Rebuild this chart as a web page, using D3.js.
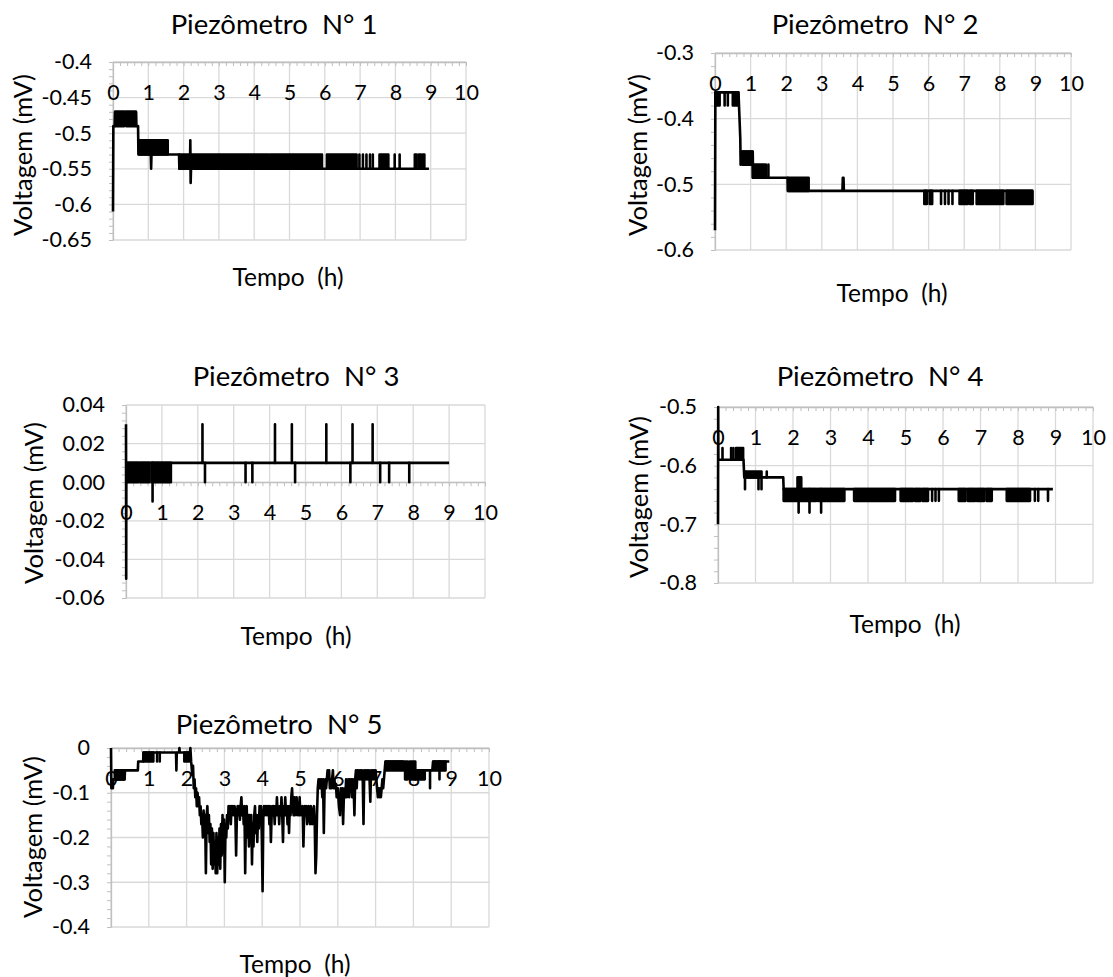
<!DOCTYPE html>
<html><head><meta charset="utf-8">
<script src="https://cdn.jsdelivr.net/npm/d3@7"></script>
<style>
body{margin:0;background:#fff}
svg{display:block}
text{font-family:Lato,"Open Sans",sans-serif;fill:#000}
</style>
</head><body>
<svg id="chart" width="1113" height="977"></svg>
<script>
// ---------- DATA ----------
const titles = ["Piezômetro  N° 1","Piezômetro  N° 2","Piezômetro  N° 3","Piezômetro  N° 4","Piezômetro  N° 5"];
const xTitle = "Tempo  (h)";
const yTitle = "Voltagem (mV)";
const xTickLabels = ["0","1","2","3","4","5","6","7","8","9","10"];

const p1YTicks = ["-0.4","-0.45","-0.5","-0.55","-0.6","-0.65"];
const p2YTicks = ["-0.3","-0.4","-0.5","-0.6"];
const p3YTicks = ["0.04","0.02","0.00","-0.02","-0.04","-0.06"];
const p4YTicks = ["-0.5","-0.6","-0.7","-0.8"];
const p5YTicks = ["0","-0.1","-0.2","-0.3","-0.4"];

// main line: [time h, voltage mV]
const p1Line = [[0,-0.61],[0.01,-0.49],[0.05,-0.49],[0.06,-0.47],[0.65,-0.47],[0.66,-0.49],[0.71,-0.49],[0.72,-0.53],[1.07,-0.53],[1.08,-0.55],[1.09,-0.53],[1.87,-0.53],[1.88,-0.55],[2.18,-0.55],[2.19,-0.51],[2.2,-0.57],[2.21,-0.55],[8.95,-0.55]];
// dense fluctuation between two levels: [t start, t end, low, high]
const p1Bands = [[0.06,0.32,-0.49,-0.47],[0.37,0.65,-0.49,-0.47],[0.74,1.55,-0.53,-0.51],[1.88,4.4,-0.55,-0.53],[4.45,5.48,-0.55,-0.53],[5.52,5.92,-0.55,-0.53],[6.06,6.5,-0.55,-0.53],[6.54,6.9,-0.55,-0.53],[6.98,6.98,-0.55,-0.53],[7.08,7.08,-0.55,-0.53],[7.18,7.18,-0.55,-0.53],[7.28,7.28,-0.55,-0.53],[7.36,7.36,-0.55,-0.53],[7.55,7.8,-0.55,-0.53],[7.98,7.98,-0.55,-0.53],[8.12,8.12,-0.55,-0.53],[8.55,8.6,-0.55,-0.53],[8.66,8.72,-0.55,-0.53],[8.77,8.82,-0.55,-0.53]];

const p2Line = [[0,-0.57],[0.01,-0.36],[0.66,-0.36],[0.71,-0.43],[0.72,-0.47],[0.74,-0.45],[1.06,-0.45],[1.07,-0.49],[2.04,-0.49],[2.05,-0.51],[3.58,-0.51],[3.59,-0.49],[3.61,-0.49],[3.62,-0.51],[8.93,-0.51]];
const p2Bands = [[0.01,0.13,-0.38,-0.36],[0.27,0.27,-0.38,-0.36],[0.36,0.36,-0.38,-0.36],[0.5,0.65,-0.38,-0.36],[0.77,1.05,-0.47,-0.45],[1.06,1.38,-0.49,-0.47],[1.43,1.43,-0.49,-0.47],[1.5,1.5,-0.49,-0.47],[2.05,2.63,-0.51,-0.49],[5.88,5.95,-0.53,-0.51],[6.03,6.1,-0.53,-0.51],[6.35,6.35,-0.53,-0.51],[6.46,6.46,-0.53,-0.51],[6.56,6.56,-0.53,-0.51],[6.67,6.67,-0.53,-0.51],[6.87,7.1,-0.53,-0.51],[7.16,7.24,-0.53,-0.51],[7.35,8.1,-0.53,-0.51],[8.19,8.92,-0.53,-0.51]];

const p3Line = [[0,0.03],[0.005,-0.05],[0.01,0.01],[9.0,0.01]];
const p3Bands = [[0.02,0.34,0,0.01],[0.39,0.65,0,0.01],[0.71,1.25,0,0.01],[0.74,0.74,-0.01,0.01],[2.13,2.13,0.01,0.03],[2.2,2.2,0,0.01],[3.33,3.33,0,0.01],[3.52,3.52,0,0.01],[4.15,4.15,0.01,0.03],[4.62,4.62,0.01,0.03],[4.71,4.71,0,0.01],[5.58,5.58,0.01,0.03],[6.25,6.25,0,0.01],[6.31,6.31,0.01,0.03],[6.87,6.87,0.01,0.03],[7.08,7.08,0,0.01],[7.33,7.33,0,0.01],[7.89,7.89,0,0.01]];

const p4Line = [[0,-0.7],[0.005,-0.5],[0.01,-0.59],[0.68,-0.59],[0.7,-0.62],[1.74,-0.62],[1.75,-0.64],[8.93,-0.64]];
const p4Bands = [[0.12,0.12,-0.59,-0.57],[0.35,0.35,-0.59,-0.57],[0.41,0.41,-0.59,-0.57],[0.48,0.67,-0.59,-0.57],[0.72,0.72,-0.64,-0.61],[0.75,1.16,-0.62,-0.61],[1.08,1.08,-0.64,-0.62],[1.16,1.16,-0.64,-0.62],[1.3,1.3,-0.62,-0.61],[1.75,2.62,-0.66,-0.64],[2.12,2.22,-0.64,-0.62],[2.15,2.15,-0.68,-0.64],[2.44,2.44,-0.68,-0.64],[2.75,2.75,-0.68,-0.64],[2.66,3.37,-0.66,-0.64],[3.63,4.72,-0.66,-0.64],[4.87,5.2,-0.66,-0.64],[5.25,5.4,-0.66,-0.64],[5.45,5.6,-0.66,-0.64],[5.71,5.71,-0.66,-0.64],[5.8,5.8,-0.66,-0.64],[5.89,5.89,-0.66,-0.64],[6.42,6.6,-0.66,-0.64],[6.66,6.86,-0.66,-0.64],[6.9,7.1,-0.66,-0.64],[7.16,7.3,-0.66,-0.64],[7.7,8.32,-0.66,-0.64],[8.45,8.45,-0.66,-0.64],[8.54,8.54,-0.66,-0.64],[8.8,8.8,-0.66,-0.64]];

const p5Line = [[0,0],[0.01,-0.09],[0.05,-0.09],[0.06,-0.07],[0.36,-0.07],[0.37,-0.05],[0.71,-0.05],[0.72,-0.03],[0.85,-0.03],[0.86,-0.01],[1.72,-0.01],[1.73,-0.05],[1.74,-0.01],[1.8,-0.01],[1.81,0],[1.82,-0.01],[2.09,-0.01],[2.1,0],[2.12,-0.03],
[2.15,-0.06],[2.17,-0.04],[2.19,-0.09],[2.21,-0.07],[2.23,-0.11],[2.25,-0.09],[2.27,-0.13],[2.29,-0.1],[2.31,-0.13],[2.33,-0.11],[2.35,-0.15],[2.37,-0.13],[2.39,-0.17],[2.41,-0.15],[2.43,-0.2],[2.45,-0.14],[2.47,-0.19],[2.49,-0.15],[2.51,-0.28],[2.53,-0.15],[2.55,-0.13],[2.57,-0.19],[2.59,-0.15],[2.61,-0.21],[2.63,-0.17],[2.65,-0.26],[2.67,-0.18],[2.69,-0.27],[2.71,-0.19],[2.73,-0.26],[2.75,-0.21],[2.77,-0.28],[2.79,-0.19],[2.81,-0.28],[2.83,-0.2],[2.85,-0.26],[2.87,-0.18],[2.89,-0.27],[2.91,-0.17],[2.93,-0.24],[2.95,-0.15],[2.97,-0.2],[2.99,-0.16],[3.01,-0.3],[3.03,-0.17],[3.05,-0.2],[3.07,-0.15],[3.09,-0.18],[3.11,-0.13],[3.13,-0.15],[3.15,-0.13],[3.17,-0.17],[3.19,-0.13],[3.21,-0.15],[3.23,-0.13],[3.25,-0.15],[3.27,-0.13],[3.29,-0.15],[3.31,-0.24],[3.33,-0.15],[3.35,-0.13],[3.37,-0.15],[3.39,-0.13],[3.41,-0.16],[3.43,-0.13],[3.45,-0.11],[3.47,-0.15],[3.49,-0.13],[3.51,-0.17],[3.53,-0.13],[3.55,-0.28],[3.57,-0.15],[3.59,-0.13],[3.61,-0.2],[3.63,-0.15],[3.65,-0.22],[3.67,-0.15],[3.69,-0.19],[3.71,-0.15],[3.73,-0.26],[3.75,-0.17],[3.77,-0.22],[3.79,-0.15],[3.81,-0.13],[3.83,-0.19],[3.85,-0.15],[3.87,-0.21],[3.89,-0.15],[3.91,-0.18],[3.93,-0.13],[3.95,-0.16],[3.97,-0.13],[3.99,-0.2],[4.01,-0.32],[4.03,-0.15],[4.05,-0.13],
[4.07,-0.15],[4.09,-0.13],[4.11,-0.15],[4.13,-0.13],[4.15,-0.15],[4.17,-0.13],[4.19,-0.17],[4.21,-0.13],[4.23,-0.21],[4.25,-0.15],[4.27,-0.13],[4.29,-0.15],[4.31,-0.13],[4.33,-0.17],[4.35,-0.13],[4.37,-0.15],[4.39,-0.11],[4.41,-0.15],[4.43,-0.13],[4.45,-0.17],[4.47,-0.13],[4.49,-0.15],[4.51,-0.11],[4.53,-0.15],[4.55,-0.21],[4.57,-0.13],[4.59,-0.15],[4.61,-0.11],[4.63,-0.15],[4.65,-0.13],[4.67,-0.17],[4.69,-0.13],[4.71,-0.19],[4.73,-0.13],[4.75,-0.15],[4.77,-0.11],[4.79,-0.09],[4.81,-0.13],[4.83,-0.15],[4.85,-0.11],[4.87,-0.15],[4.89,-0.13],[4.91,-0.11],[4.93,-0.15],[4.95,-0.13],[4.97,-0.15],[4.99,-0.11],[5.01,-0.15],[5.03,-0.13],[5.05,-0.15],[5.07,-0.13],[5.09,-0.22],[5.11,-0.15],[5.13,-0.13],[5.15,-0.15],[5.17,-0.13],[5.19,-0.17],[5.21,-0.15],[5.23,-0.13],[5.25,-0.15],[5.27,-0.17],[5.29,-0.13],[5.31,-0.15],[5.33,-0.17],[5.35,-0.15],[5.37,-0.13],[5.39,-0.17],[5.41,-0.28],[5.43,-0.24],[5.45,-0.15],[5.47,-0.09],[5.49,-0.07],[5.51,-0.09],[5.53,-0.07],[5.55,-0.09],[5.57,-0.07],[5.59,-0.11],[5.61,-0.07],[5.63,-0.19],[5.65,-0.09],[5.67,-0.07],[5.69,-0.09],[5.71,-0.07],[5.73,-0.05],[5.75,-0.07],[5.77,-0.05],[5.79,-0.09],[5.81,-0.07],[5.83,-0.09],[5.85,-0.07],[5.87,-0.05],[5.89,-0.09],[5.91,-0.07],[5.93,-0.09],[5.95,-0.08],[5.97,-0.11],[6.0,-0.09],[6.03,-0.13],[6.06,-0.15],[6.08,-0.09],[6.1,-0.11],[6.12,-0.09],[6.14,-0.17],[6.16,-0.11],[6.18,-0.09],[6.2,-0.11],[6.22,-0.07],[6.24,-0.11],[6.26,-0.09],[6.28,-0.07],[6.3,-0.11],[6.32,-0.07],[6.34,-0.09],[6.36,-0.07],[6.38,-0.11],[6.4,-0.07],[6.42,-0.09],[6.44,-0.15],[6.46,-0.07],[6.48,-0.05],[6.5,-0.09],[6.52,-0.05],[6.54,-0.07],[6.56,-0.05],[6.58,-0.07],[6.6,-0.05],[6.62,-0.07],[6.64,-0.05],[6.66,-0.07],[6.68,-0.17],[6.7,-0.05],[6.72,-0.07],[6.74,-0.05],[6.76,-0.07],[6.78,-0.05],[6.8,-0.07],[6.82,-0.05],[6.84,-0.07],[6.86,-0.12],[6.88,-0.05],[6.9,-0.07],[6.92,-0.05],[6.94,-0.07],[6.96,-0.05],[6.98,-0.07],[7.0,-0.05],[7.02,-0.07],[7.04,-0.09],[7.06,-0.11],[7.08,-0.09],[7.1,-0.11],[7.12,-0.09],[7.14,-0.11],[7.16,-0.09],[7.18,-0.07],[7.2,-0.09],[7.22,-0.07],[7.24,-0.05],[7.26,-0.03],[7.74,-0.03],[7.76,-0.05],[8.5,-0.05],[8.52,-0.03],[8.95,-0.03]];
const p5Bands = [[0.1,0.35,-0.07,-0.05],[0.86,1.12,-0.03,-0.01],[1.22,1.22,-0.03,-0.01],[1.29,1.29,-0.03,-0.01],[1.94,2.08,-0.03,-0.01],[7.27,7.72,-0.05,-0.03],[7.78,7.85,-0.07,-0.03],[7.9,8.05,-0.07,-0.03],[8.05,8.3,-0.07,-0.05],[8.44,8.44,-0.09,-0.05],[8.53,8.85,-0.05,-0.03],[8.69,8.69,-0.07,-0.03]];

// ---------- LAYOUT ----------
const layout = [
  {x0:113,x1:466,y0:62,y1:240,minor:0.01,tx:274,ty:34,xtx:288,xty:286,ytx:22,yty:155},
  {x0:715,x1:1071,y0:53,y1:250,minor:0.02,tx:875,ty:34,xtx:892,xty:302,ytx:637,yty:155},
  {x0:126,x1:485,y0:405,y1:598,minor:0.004,tx:296,ty:386,xtx:296,xty:645,ytx:33,yty:503},
  {x0:718,x1:1093,y0:407,y1:583,minor:0.02,tx:880,ty:386,xtx:905,xty:633,ytx:638,yty:497},
  {x0:111,x1:489,y0:748,y1:927,minor:0.02,tx:279,ty:734,xtx:295,xty:973,ytx:32,yty:837}
];
const series = [
  {ticks:p1YTicks,line:p1Line,bands:p1Bands},
  {ticks:p2YTicks,line:p2Line,bands:p2Bands},
  {ticks:p3YTicks,line:p3Line,bands:p3Bands},
  {ticks:p4YTicks,line:p4Line,bands:p4Bands},
  {ticks:p5YTicks,line:p5Line,bands:p5Bands}
];

const svg = d3.select("#chart");
const GRID = "#d9d9d9", AXIS = "#bfbfbf";
const TICK_FS = 21.5, TITLE_FS = 27.5, XT_FS = 24.5, YT_FS = 25.5, LW = 2.6;

series.forEach((s, i) => {
  const L = layout[i];
  const g = svg.append("g");
  const xVals = xTickLabels.map(Number);
  const yVals = s.ticks.map(Number);
  const x = d3.scaleLinear().domain([0, 10]).range([L.x0, L.x1]);
  const [ymin, ymax] = d3.extent(yVals);
  const y = d3.scaleLinear().domain([ymin, ymax]).range([L.y1, L.y0]);
  const cross = Math.max(ymin, Math.min(ymax, 0));
  const axY = y(cross);

  // gridlines
  g.append("g").selectAll("line").data(yVals).join("line")
    .attr("x1", L.x0).attr("x2", L.x1).attr("y1", d => y(d)).attr("y2", d => y(d))
    .attr("stroke", GRID).attr("stroke-width", 1.3);
  g.append("g").selectAll("line").data(xVals).join("line")
    .attr("x1", d => x(d)).attr("x2", d => x(d)).attr("y1", L.y0).attr("y2", L.y1)
    .attr("stroke", GRID).attr("stroke-width", 1.3);

  // minor ticks
  const nY = Math.round((ymax - ymin) / L.minor);
  const yMinor = d3.range(nY + 1).map(k => +(ymin + k * L.minor).toFixed(4));
  const xMinor = d3.range(51).map(k => +(k * 0.2).toFixed(2));
  const ya = g.append("g").attr("transform", `translate(${L.x0},0)`)
    .call(d3.axisLeft(y).tickValues(yMinor).tickSize(4).tickSizeOuter(0).tickFormat(""));
  const xa = g.append("g").attr("transform", `translate(0,${axY})`)
    .call(d3.axisBottom(x).tickValues(xMinor).tickSize(4).tickSizeOuter(0).tickFormat(""));
  [ya, xa].forEach(a => {
    a.select(".domain").attr("stroke", AXIS).attr("stroke-width", 1.3);
    a.selectAll(".tick line").attr("stroke", AXIS).attr("stroke-width", 1);
  });

  // tick labels
  const yl = g.append("g").attr("transform", `translate(${L.x0},0)`)
    .call(d3.axisLeft(y).tickValues(yVals).tickSize(0).tickPadding(21).tickFormat((d, k) => s.ticks[k]));
  const xl = g.append("g").attr("transform", `translate(0,${axY})`)
    .call(d3.axisBottom(x).tickValues(xVals).tickSize(0).tickPadding(23).tickFormat((d, k) => xTickLabels[k]));
  [yl, xl].forEach(a => {
    a.select(".domain").remove();
    a.selectAll("text").attr("font-family", "Lato").attr("font-size", TICK_FS).attr("fill", "#000");
  });

  // data: dense fluctuation bands and main line
  g.append("g").selectAll("path").data(s.bands).join("path")
    .attr("d", d => `M${x(d[0])},${y(d[3])}H${x(d[1])}V${y(d[2])}H${x(d[0])}Z`)
    .attr("fill", "#000").attr("stroke", "#000").attr("stroke-width", LW).attr("stroke-linejoin", "round");
  g.append("path").datum(s.line)
    .attr("d", d3.line().x(d => x(d[0])).y(d => y(d[1])))
    .attr("fill", "none").attr("stroke", "#000").attr("stroke-width", LW).attr("stroke-linejoin", "round");

  // titles
  g.append("text").attr("x", L.tx).attr("y", L.ty).attr("text-anchor", "middle")
    .attr("font-size", TITLE_FS).style("white-space", "pre").text(titles[i]);
  g.append("text").attr("x", L.xtx).attr("y", L.xty).attr("text-anchor", "middle")
    .attr("font-size", XT_FS).style("white-space", "pre").text(xTitle);
  g.append("text").attr("transform", `translate(${L.ytx},${L.yty}) rotate(-90)`)
    .attr("text-anchor", "middle").attr("dominant-baseline", "central")
    .attr("font-size", YT_FS).text(yTitle);
});
</script>
</body></html>
